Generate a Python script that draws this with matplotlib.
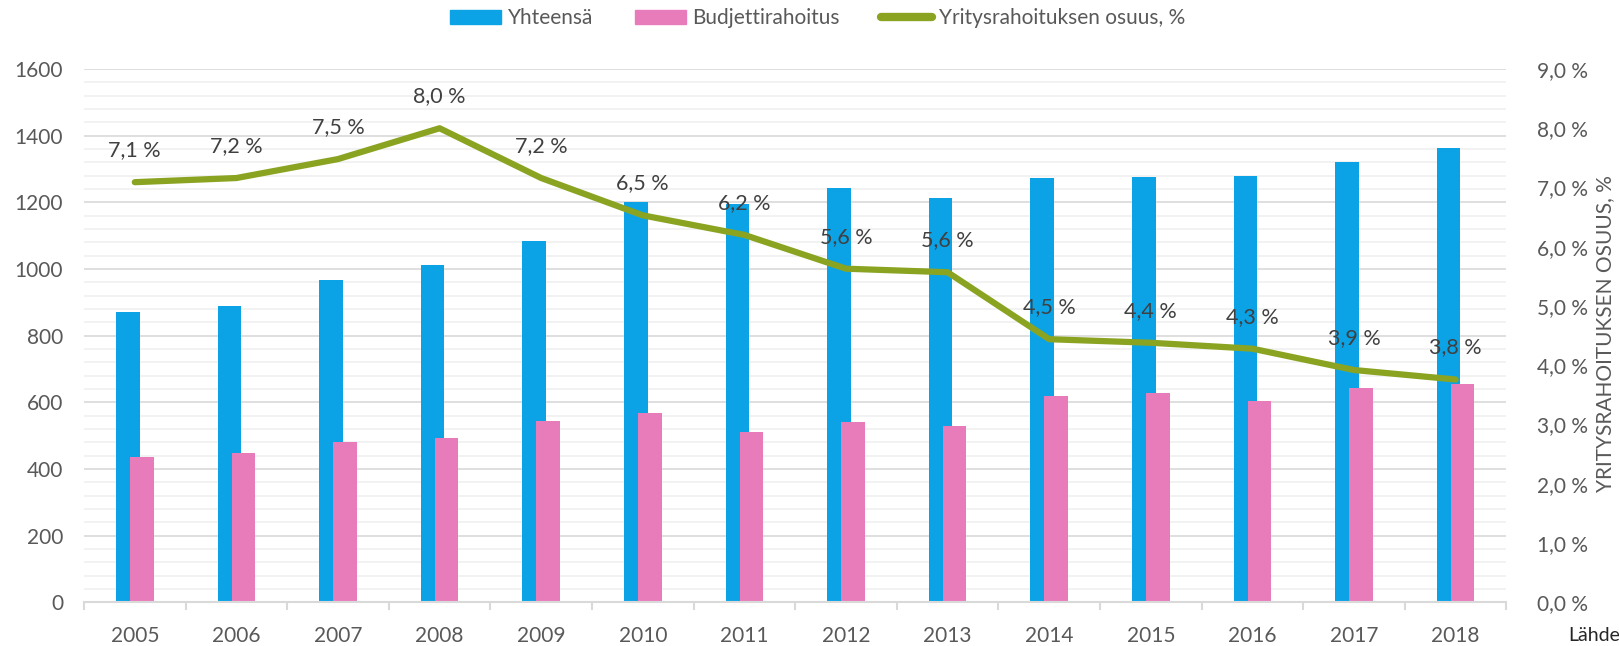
import numpy as np
import matplotlib
matplotlib.use("Agg")
import matplotlib.pyplot as plt
from matplotlib.lines import Line2D
from matplotlib.patches import Patch

plt.rcParams["font.family"] = ["Lato", "DejaVu Sans"]

# === data ===
years = ["2005", "2006", "2007", "2008", "2009", "2010", "2011",
         "2012", "2013", "2014", "2015", "2016", "2017", "2018"]
yhteensa = [871, 889, 967, 1011, 1083, 1201, 1194, 1242, 1213, 1274, 1276, 1279, 1322, 1363]
budjetti = [436, 448, 481, 493, 545, 568, 510, 541, 529, 619, 628, 605, 643, 655]
osuus = [7.09, 7.16, 7.48, 8.0, 7.16, 6.53, 6.20, 5.63, 5.57, 4.44, 4.38, 4.28, 3.92, 3.76]
osuus_labels = ["7,1 %", "7,2 %", "7,5 %", "8,0 %", "7,2 %", "6,5 %", "6,2 %",
                "5,6 %", "5,6 %", "4,5 %", "4,4 %", "4,3 %", "3,9 %", "3,8 %"]

BLUE = "#0ba3e6"
PINK = "#e87cba"
GREEN = "#8aa422"
TXT = "#595959"

fig = plt.figure(figsize=(16.19, 6.46), dpi=100)
ax = fig.add_axes([84 / 1619, 1 - 602.3 / 646, (1506.4 - 84) / 1619, (602.3 - 69) / 646])

x = np.arange(len(years))
w = 0.233
ax.bar(x - 0.069, yhteensa, w, color=BLUE, zorder=2)
ax.bar(x + 0.069, budjetti, w, color=PINK, zorder=3)

ax.set_xlim(-0.5, len(years) - 0.5)
ax.set_ylim(0, 1600)
ax.set_yticks(np.arange(0, 1601, 200))
ax.set_yticks(np.arange(0, 1601, 40), minor=True)
ax.grid(axis="y", which="major", color="#d9d9d9", lw=1.2, zorder=0)
ax.grid(axis="y", which="minor", color="#f0f0f0", lw=1.2, zorder=0)
ax.set_axisbelow(True)

ax.set_xticks(x)
ax.set_xticklabels(years)
ax.set_xticks(np.arange(-0.5, len(years), 1), minor=True)
ax.tick_params(axis="x", which="major", length=0, pad=17, labelsize=15, labelcolor=TXT)
ax.tick_params(axis="x", which="minor", length=6, width=1.5, color="#d9d9d9")
ax.tick_params(axis="y", which="both", length=0, pad=15, labelsize=15, labelcolor=TXT)

for s in ["top", "left", "right"]:
    ax.spines[s].set_visible(False)
ax.spines["bottom"].set_color("#d9d9d9")
ax.spines["bottom"].set_linewidth(1.5)
ax.spines["bottom"].set_zorder(4)

# secondary axis: share of company funding
ax2 = ax.twinx()
ax2.plot(x, osuus, color=GREEN, lw=4.5, solid_capstyle="round", solid_joinstyle="round", zorder=5)
ax2.set_ylim(0, 9)
ax2.set_yticks(np.arange(0, 9.1, 1))
ax2.set_yticklabels([f"{v:.1f} %".replace(".", ",") for v in np.arange(0, 9.1, 1)])
ax2.tick_params(axis="y", length=0, pad=22, labelsize=15, labelcolor=TXT)
for s in ["top", "left", "right", "bottom"]:
    ax2.spines[s].set_visible(False)

for xi, v, lab in zip(x, osuus, osuus_labels):
    ax2.annotate(lab, (xi, v), xytext=(0, 23), textcoords="offset points",
                 ha="center", va="center", fontsize=15.5, color="#404040")

fig.text(1605 / 1619, 1 - 334 / 646, "YRITYSRAHOITUKSEN OSUUS, %", rotation=90,
         ha="center", va="center", fontsize=15, color=TXT)

handles = [Patch(color=BLUE), Patch(color=PINK),
           Line2D([0], [0], color=GREEN, lw=6, solid_capstyle="round")]
fig.legend(handles, ["Yhteensä", "Budjettirahoitus", "Yritysrahoituksen osuus, %"],
           loc="center", bbox_to_anchor=(0.505, 1 - 18 / 646), ncol=3, frameon=False,
           fontsize=15, handlelength=2.45, handleheight=0.65, handletextpad=0.3,
           columnspacing=2.0, labelcolor=TXT)

# source note in the bottom right corner
fig.text(1568 / 1619, 2 / 646, "Lähde", ha="left", va="bottom", fontsize=14, color="#262626")

fig.savefig("out.png", dpi=100)
